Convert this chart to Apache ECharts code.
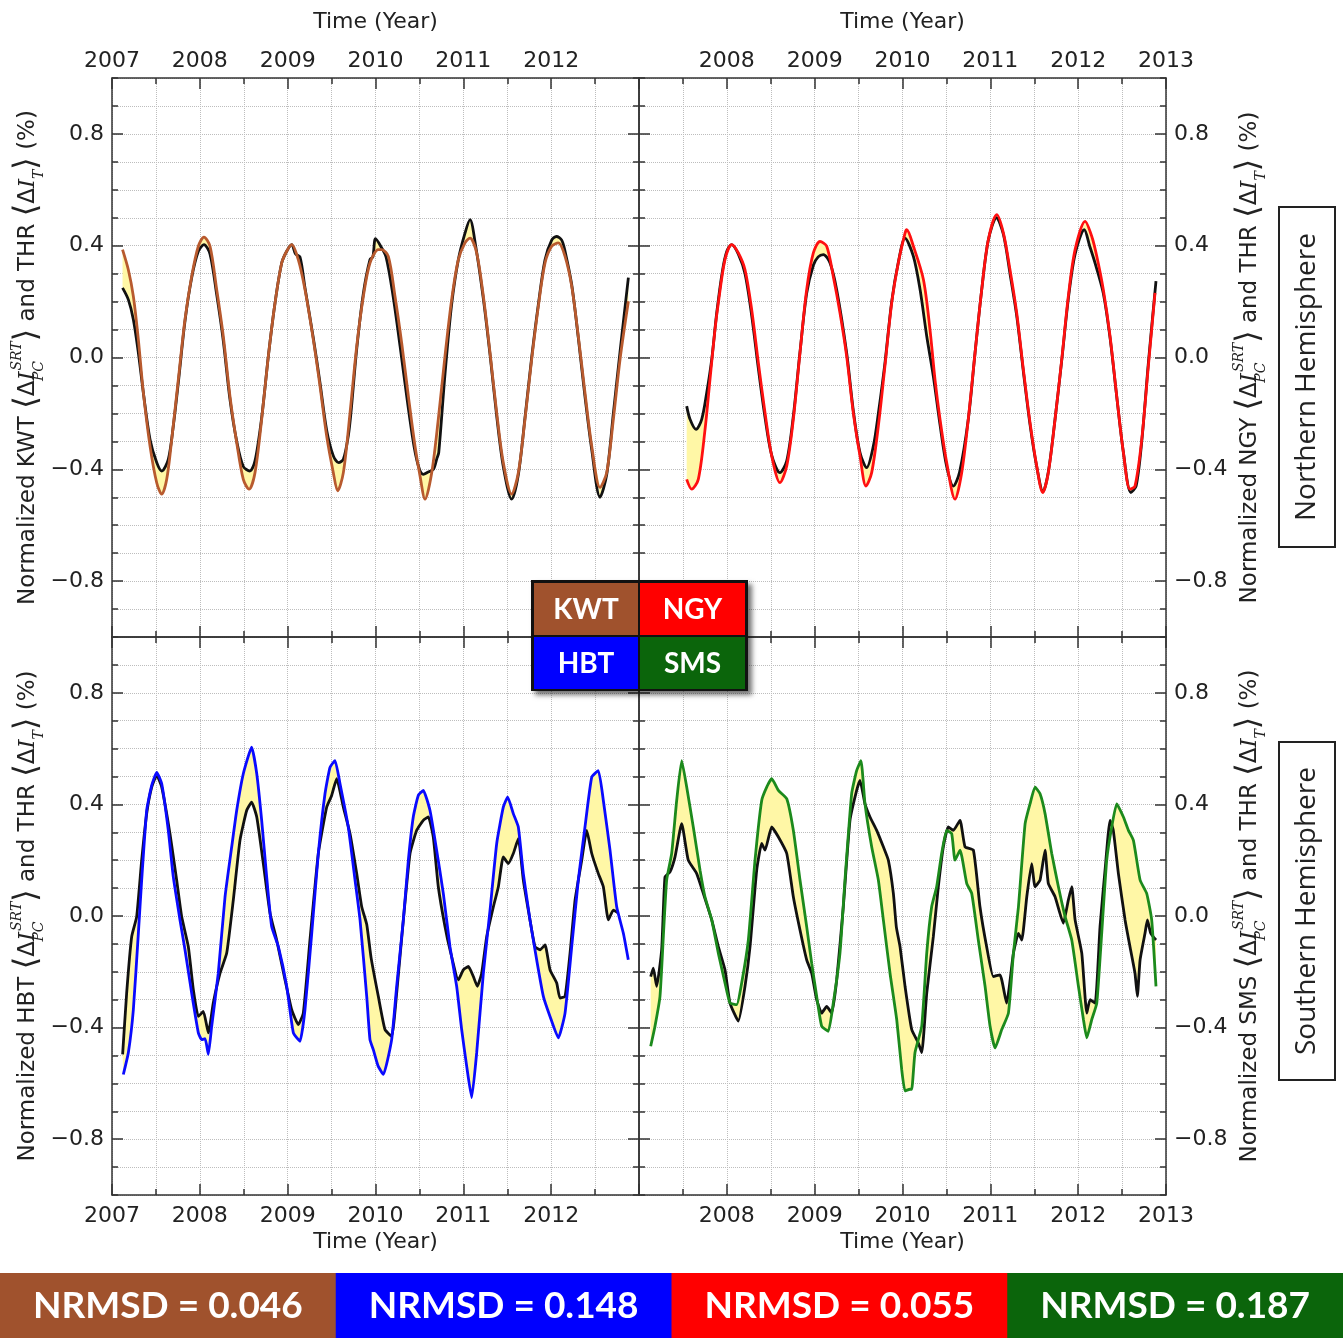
<!DOCTYPE html>
<html>
<head>
<meta charset="utf-8">
<script src="https://cdn.jsdelivr.net/npm/echarts@6/dist/echarts.min.js"></script>
<style>
html,body{margin:0;padding:0;background:#fff;}
#chart{width:1343px;height:1338px;}
</style>
</head>
<body>
<div id="chart"></div>
<script>
// ---------- DATA (decimal year, normalized %) ----------
const KWT = [[2007.12,0.386],[2007.186,0.314],[2007.243,0.219],[2007.30,0.064],[2007.357,-0.126],[2007.433,-0.317],[2007.509,-0.448],[2007.566,-0.489],[2007.623,-0.436],[2007.68,-0.293],[2007.755,-0.079],[2007.831,0.136],[2007.907,0.29],[2007.983,0.398],[2008.047,0.431],[2008.116,0.398],[2008.192,0.243],[2008.267,0.076],[2008.343,-0.138],[2008.42,-0.305],[2008.495,-0.436],[2008.56,-0.471],[2008.628,-0.412],[2008.704,-0.221],[2008.78,0.005],[2008.856,0.195],[2008.932,0.338],[2008.989,0.38],[2009.046,0.404],[2009.121,0.35],[2009.197,0.243],[2009.292,0.064],[2009.368,-0.102],[2009.444,-0.281],[2009.52,-0.412],[2009.569,-0.477],[2009.634,-0.412],[2009.71,-0.198],[2009.786,0.04],[2009.862,0.219],[2009.937,0.338],[2010.032,0.386],[2010.07,0.386],[2010.146,0.362],[2010.222,0.219],[2010.298,0.052],[2010.374,-0.138],[2010.45,-0.317],[2010.507,-0.424],[2010.564,-0.507],[2010.64,-0.412],[2010.715,-0.221],[2010.791,0.005],[2010.867,0.207],[2010.943,0.35],[2011.019,0.41],[2011.076,0.427],[2011.152,0.374],[2011.228,0.219],[2011.304,0.017],[2011.38,-0.198],[2011.455,-0.376],[2011.55,-0.489],[2011.626,-0.412],[2011.702,-0.221],[2011.778,-0.007],[2011.854,0.183],[2011.93,0.338],[2012.006,0.398],[2012.082,0.41],[2012.158,0.362],[2012.234,0.255],[2012.309,0.076],[2012.385,-0.126],[2012.462,-0.317],[2012.556,-0.465],[2012.632,-0.412],[2012.708,-0.221],[2012.784,-0.007],[2012.879,0.201]];
const THR_KWT = [[2007.12,0.249],[2007.186,0.207],[2007.243,0.136],[2007.30,0.017],[2007.357,-0.126],[2007.433,-0.293],[2007.509,-0.376],[2007.566,-0.406],[2007.641,-0.364],[2007.698,-0.245],[2007.755,-0.09],[2007.831,0.13],[2007.907,0.285],[2007.983,0.38],[2008.047,0.404],[2008.116,0.37],[2008.192,0.225],[2008.267,0.06],[2008.343,-0.15],[2008.42,-0.30],[2008.495,-0.39],[2008.569,-0.406],[2008.628,-0.37],[2008.704,-0.215],[2008.78,0.005],[2008.856,0.195],[2008.932,0.338],[2008.989,0.38],[2009.046,0.404],[2009.09,0.37],[2009.14,0.36],[2009.197,0.25],[2009.292,0.07],[2009.368,-0.09],[2009.444,-0.26],[2009.52,-0.352],[2009.58,-0.376],[2009.634,-0.364],[2009.69,-0.281],[2009.72,-0.20],[2009.786,0.03],[2009.862,0.23],[2009.937,0.35],[2009.97,0.36],[2010.0,0.425],[2010.056,0.40],[2010.12,0.36],[2010.2,0.22],[2010.28,0.04],[2010.36,-0.15],[2010.44,-0.32],[2010.5,-0.40],[2010.544,-0.418],[2010.6,-0.41],[2010.66,-0.40],[2010.70,-0.36],[2010.72,-0.34],[2010.791,-0.06],[2010.867,0.19],[2010.943,0.35],[2011.019,0.445],[2011.076,0.493],[2011.14,0.40],[2011.228,0.21],[2011.304,0.01],[2011.38,-0.21],[2011.455,-0.39],[2011.55,-0.507],[2011.626,-0.42],[2011.702,-0.215],[2011.778,0.0],[2011.854,0.19],[2011.93,0.35],[2012.006,0.42],[2012.06,0.433],[2012.12,0.42],[2012.158,0.38],[2012.234,0.26],[2012.309,0.07],[2012.385,-0.14],[2012.462,-0.33],[2012.556,-0.50],[2012.632,-0.42],[2012.708,-0.2],[2012.784,0.02],[2012.879,0.286]];

const NGY = [[2007.543,-0.436],[2007.6,-0.471],[2007.675,-0.436],[2007.752,-0.257],[2007.808,-0.079],[2007.865,0.1],[2007.903,0.195],[2007.979,0.35],[2008.055,0.404],[2008.131,0.374],[2008.207,0.314],[2008.283,0.171],[2008.359,-0.019],[2008.435,-0.198],[2008.511,-0.352],[2008.605,-0.448],[2008.682,-0.388],[2008.757,-0.221],[2008.833,0.017],[2008.909,0.243],[2008.985,0.374],[2009.061,0.415],[2009.137,0.398],[2009.212,0.29],[2009.288,0.16],[2009.364,0.005],[2009.44,-0.198],[2009.516,-0.352],[2009.584,-0.46],[2009.649,-0.412],[2009.725,-0.245],[2009.8,-0.031],[2009.877,0.195],[2009.952,0.338],[2010.029,0.445],[2010.048,0.457],[2010.124,0.398],[2010.238,0.279],[2010.313,0.1],[2010.37,-0.079],[2010.427,-0.221],[2010.503,-0.376],[2010.598,-0.507],[2010.674,-0.412],[2010.749,-0.221],[2010.826,0.017],[2010.902,0.243],[2010.977,0.421],[2011.073,0.511],[2011.149,0.445],[2011.224,0.314],[2011.3,0.16],[2011.376,-0.043],[2011.452,-0.233],[2011.528,-0.388],[2011.596,-0.483],[2011.66,-0.412],[2011.737,-0.221],[2011.813,-0.007],[2011.888,0.219],[2011.965,0.386],[2012.079,0.487],[2012.155,0.433],[2012.212,0.362],[2012.286,0.243],[2012.363,0.076],[2012.439,-0.138],[2012.515,-0.34],[2012.59,-0.471],[2012.647,-0.46],[2012.724,-0.293],[2012.799,-0.031],[2012.875,0.231]];
const THR_NGY = [[2007.543,-0.174],[2007.581,-0.221],[2007.649,-0.257],[2007.714,-0.221],[2007.771,-0.126],[2007.828,-0.007],[2007.885,0.16],[2007.95,0.31],[2008.0,0.38],[2008.055,0.404],[2008.131,0.37],[2008.207,0.30],[2008.283,0.15],[2008.359,-0.04],[2008.435,-0.215],[2008.511,-0.35],[2008.605,-0.412],[2008.682,-0.37],[2008.757,-0.21],[2008.833,0.02],[2008.909,0.23],[2008.985,0.33],[2009.04,0.36],[2009.099,0.368],[2009.175,0.338],[2009.25,0.243],[2009.364,0.017],[2009.44,-0.19],[2009.516,-0.34],[2009.592,-0.394],[2009.668,-0.317],[2009.725,-0.2],[2009.8,-0.02],[2009.877,0.2],[2009.952,0.34],[2010.029,0.427],[2010.124,0.362],[2010.2,0.243],[2010.276,0.076],[2010.351,-0.067],[2010.427,-0.24],[2010.503,-0.39],[2010.579,-0.46],[2010.65,-0.41],[2010.749,-0.221],[2010.826,0.017],[2010.902,0.243],[2010.977,0.42],[2011.07,0.50],[2011.149,0.44],[2011.224,0.30],[2011.3,0.15],[2011.376,-0.05],[2011.452,-0.24],[2011.528,-0.39],[2011.6,-0.48],[2011.66,-0.41],[2011.737,-0.22],[2011.813,-0.01],[2011.888,0.21],[2011.965,0.37],[2012.07,0.457],[2012.13,0.40],[2012.2,0.33],[2012.286,0.23],[2012.363,0.07],[2012.439,-0.14],[2012.515,-0.34],[2012.6,-0.483],[2012.66,-0.46],[2012.724,-0.30],[2012.799,-0.02],[2012.886,0.273]];

const HBT = [[2007.129,-0.568],[2007.186,-0.49],[2007.243,-0.336],[2007.30,-0.062],[2007.338,0.129],[2007.395,0.379],[2007.452,0.468],[2007.509,0.515],[2007.566,0.474],[2007.641,0.307],[2007.698,0.14],[2007.774,-0.014],[2007.831,-0.121],[2007.907,-0.276],[2007.983,-0.419],[2008.021,-0.443],[2008.06,-0.44],[2008.097,-0.496],[2008.135,-0.395],[2008.21,-0.205],[2008.287,0.069],[2008.363,0.248],[2008.42,0.379],[2008.495,0.51],[2008.59,0.605],[2008.648,0.51],[2008.704,0.343],[2008.761,0.14],[2008.818,-0.038],[2008.894,-0.11],[2008.989,-0.252],[2009.065,-0.419],[2009.14,-0.449],[2009.197,-0.336],[2009.274,-0.062],[2009.349,0.224],[2009.425,0.438],[2009.482,0.533],[2009.539,0.557],[2009.596,0.474],[2009.69,0.319],[2009.767,0.129],[2009.824,-0.014],[2009.9,-0.288],[2009.937,-0.443],[2009.975,-0.479],[2010.03,-0.538],[2010.089,-0.568],[2010.184,-0.443],[2010.241,-0.252],[2010.317,-0.014],[2010.374,0.2],[2010.43,0.355],[2010.487,0.432],[2010.544,0.45],[2010.62,0.379],[2010.696,0.236],[2010.772,0.081],[2010.848,-0.11],[2010.924,-0.252],[2010.981,-0.407],[2011.038,-0.538],[2011.095,-0.651],[2011.152,-0.49],[2011.228,-0.205],[2011.304,0.021],[2011.38,0.26],[2011.455,0.39],[2011.505,0.426],[2011.569,0.367],[2011.626,0.319],[2011.683,0.152],[2011.759,-0.014],[2011.835,-0.157],[2011.911,-0.288],[2011.987,-0.36],[2012.082,-0.437],[2012.158,-0.348],[2012.234,-0.11],[2012.309,0.129],[2012.385,0.319],[2012.462,0.498],[2012.537,0.521],[2012.594,0.414],[2012.67,0.236],[2012.746,0.033],[2012.822,-0.062],[2012.878,-0.157]];
const THR_HBT = [[2007.121,-0.496],[2007.167,-0.276],[2007.224,-0.074],[2007.281,-0.002],[2007.338,0.2],[2007.395,0.367],[2007.452,0.462],[2007.509,0.504],[2007.566,0.462],[2007.66,0.295],[2007.736,0.129],[2007.793,-0.002],[2007.869,-0.11],[2007.926,-0.264],[2007.983,-0.36],[2008.04,-0.342],[2008.097,-0.419],[2008.153,-0.312],[2008.23,-0.205],[2008.306,-0.133],[2008.381,0.057],[2008.457,0.271],[2008.534,0.379],[2008.59,0.408],[2008.648,0.355],[2008.723,0.188],[2008.799,0.01],[2008.875,-0.086],[2008.97,-0.229],[2009.046,-0.336],[2009.121,-0.389],[2009.178,-0.348],[2009.254,-0.086],[2009.349,0.224],[2009.444,0.39],[2009.501,0.432],[2009.558,0.492],[2009.634,0.39],[2009.71,0.295],[2009.786,0.152],[2009.843,0.033],[2009.9,-0.03],[2009.95,-0.15],[2010.032,-0.288],[2010.108,-0.407],[2010.184,-0.431],[2010.241,-0.276],[2010.317,-0.014],[2010.393,0.224],[2010.469,0.307],[2010.544,0.343],[2010.601,0.355],[2010.658,0.283],[2010.715,0.105],[2010.791,-0.038],[2010.848,-0.121],[2010.943,-0.229],[2011.0,-0.193],[2011.057,-0.181],[2011.114,-0.217],[2011.159,-0.252],[2011.209,-0.205],[2011.266,-0.074],[2011.342,0.033],[2011.399,0.105],[2011.455,0.212],[2011.512,0.188],[2011.569,0.224],[2011.626,0.277],[2011.683,0.129],[2011.759,-0.014],[2011.816,-0.11],[2011.873,-0.121],[2011.93,-0.104],[2011.987,-0.193],[2012.063,-0.24],[2012.1,-0.294],[2012.158,-0.288],[2012.215,-0.133],[2012.272,0.057],[2012.348,0.2],[2012.405,0.307],[2012.462,0.224],[2012.537,0.152],[2012.594,0.105],[2012.651,-0.014],[2012.708,0.021],[2012.765,0.01]];

const SMS = [[2007.133,-0.467],[2007.182,-0.395],[2007.239,-0.288],[2007.277,-0.074],[2007.315,0.129],[2007.372,0.224],[2007.429,0.414],[2007.486,0.557],[2007.543,0.462],[2007.618,0.319],[2007.695,0.164],[2007.751,0.069],[2007.828,-0.014],[2007.903,-0.133],[2007.979,-0.24],[2008.036,-0.312],[2008.112,-0.318],[2008.169,-0.24],[2008.245,-0.086],[2008.321,0.2],[2008.397,0.414],[2008.454,0.462],[2008.511,0.492],[2008.587,0.45],[2008.682,0.42],[2008.757,0.307],[2008.833,0.129],[2008.909,-0.038],[2008.966,-0.169],[2009.023,-0.288],[2009.08,-0.395],[2009.155,-0.413],[2009.212,-0.312],[2009.288,-0.133],[2009.345,0.129],[2009.421,0.438],[2009.478,0.521],[2009.527,0.557],[2009.573,0.402],[2009.649,0.248],[2009.725,0.129],[2009.782,-0.014],[2009.858,-0.205],[2009.934,-0.371],[2009.991,-0.55],[2010.029,-0.627],[2010.086,-0.621],[2010.105,-0.621],[2010.142,-0.49],[2010.219,-0.395],[2010.276,-0.133],[2010.332,0.033],[2010.389,0.105],[2010.446,0.224],[2010.503,0.307],[2010.56,0.295],[2010.598,0.2],[2010.655,0.236],[2010.731,0.117],[2010.788,0.081],[2010.863,-0.086],[2010.94,-0.252],[2010.997,-0.395],[2011.054,-0.473],[2011.13,-0.407],[2011.206,-0.348],[2011.263,-0.133],[2011.32,0.033],[2011.396,0.331],[2011.452,0.402],[2011.509,0.462],[2011.566,0.438],[2011.623,0.367],[2011.699,0.224],[2011.775,0.105],[2011.851,-0.002],[2011.927,-0.086],[2012.003,-0.252],[2012.06,-0.371],[2012.098,-0.437],[2012.155,-0.371],[2012.212,-0.312],[2012.268,-0.062],[2012.325,0.2],[2012.382,0.319],[2012.439,0.402],[2012.515,0.355],[2012.572,0.307],[2012.629,0.271],[2012.705,0.129],[2012.78,0.081],[2012.837,-0.014],[2012.886,-0.252]];
const THR_SMS = [[2007.133,-0.217],[2007.163,-0.187],[2007.201,-0.252],[2007.258,-0.121],[2007.296,0.14],[2007.353,0.158],[2007.41,0.212],[2007.486,0.331],[2007.561,0.2],[2007.657,0.152],[2007.732,0.081],[2007.828,-0.014],[2007.903,-0.11],[2007.979,-0.193],[2008.036,-0.312],[2008.131,-0.377],[2008.207,-0.252],[2008.264,-0.11],[2008.34,0.164],[2008.397,0.26],[2008.435,0.236],[2008.511,0.319],[2008.587,0.283],[2008.682,0.224],[2008.757,0.069],[2008.833,-0.05],[2008.909,-0.157],[2008.966,-0.205],[2009.023,-0.3],[2009.08,-0.348],[2009.137,-0.324],[2009.194,-0.348],[2009.251,-0.229],[2009.326,0.033],[2009.402,0.343],[2009.478,0.45],[2009.516,0.486],[2009.573,0.402],[2009.63,0.355],[2009.706,0.307],[2009.782,0.248],[2009.839,0.2],[2009.896,0.081],[2009.93,-0.04],[2009.972,-0.11],[2010.029,-0.252],[2010.105,-0.407],[2010.18,-0.455],[2010.219,-0.49],[2010.276,-0.276],[2010.351,-0.074],[2010.408,0.105],[2010.465,0.248],[2010.522,0.319],[2010.579,0.307],[2010.655,0.343],[2010.712,0.248],[2010.807,0.236],[2010.882,0.033],[2010.958,-0.11],[2011.034,-0.217],[2011.11,-0.211],[2011.185,-0.312],[2011.263,-0.133],[2011.32,-0.062],[2011.358,-0.086],[2011.415,0.069],[2011.471,0.188],[2011.509,0.105],[2011.566,0.129],[2011.623,0.236],[2011.66,0.117],[2011.737,0.069],[2011.831,-0.026],[2011.888,0.057],[2011.927,0.105],[2011.965,-0.014],[2012.041,-0.133],[2012.098,-0.348],[2012.136,-0.3],[2012.193,-0.312],[2012.249,-0.038],[2012.306,0.164],[2012.363,0.343],[2012.4,0.307],[2012.458,0.152],[2012.534,-0.014],[2012.59,-0.11],[2012.647,-0.205],[2012.674,-0.288],[2012.705,-0.157],[2012.761,-0.062],[2012.788,-0.014],[2012.826,-0.062],[2012.886,-0.086]];

const Y_TICKS_MINOR = [-1,-0.9,-0.8,-0.7,-0.6,-0.5,-0.4,-0.3,-0.2,-0.1,0,0.1,0.2,0.3,0.4,0.5,0.6,0.7,0.8,0.9,1];
const Y_TICKS_MAJOR = [-0.8,-0.4,0,0.4,0.8];
const STATIONS = ['KWT','NGY','HBT','SMS'];
const NRMSD = ['0.046','0.055','0.148','0.187'];          // per station, same order as STATIONS
const NRMSD_ORDER = ['KWT','HBT','NGY','SMS'];            // left-to-right order of the bottom bars

// ---------- STYLE ----------
const COL = {KWT:'#b85a2e', NGY:'#ff1010', HBT:'#0a0aff', SMS:'#1c8a1c'};
const BOXCOL = {KWT:'#a0522d', NGY:'#ff0000', HBT:'#0000ff', SMS:'#0b650b'};
const FILL = '#fff7a6';
const AX = '#333';
const TXT = '#222';
const FONT = 'DejaVu Sans';
const SMOOTH = [0.3, 0.3, 0.15, 0.15];

const chart = echarts.init(document.getElementById('chart'), null, {renderer:'canvas'});

const GRIDS = [
  {left:112, top:78, width:527, height:559},
  {left:639, top:78, width:527, height:559},
  {left:112, top:637, width:527, height:558},
  {left:639, top:637, width:527, height:558}
];
const PANELS = [
  {xPos:'top', hide:2013, ySide:'left', st:'KWT', a:KWT, b:THR_KWT},
  {xPos:'top', hide:2007, ySide:'right', st:'NGY', a:NGY, b:THR_NGY},
  {xPos:'bottom', hide:2013, ySide:'left', st:'HBT', a:HBT, b:THR_HBT},
  {xPos:'bottom', hide:2007, ySide:'right', st:'SMS', a:SMS, b:THR_SMS}
];

const dotted = {show:true, lineStyle:{type:'dotted', color:'#bdbdbd', width:1}};
const axLine = {show:true, onZero:false, lineStyle:{color:AX, width:1.5}};
const labelStyle = {fontFamily:FONT, fontSize:22, color:TXT};

function yFmt(v){ if (Math.abs(v) < 1e-9) return '0.0'; return (v<0?'\u2212':'') + Math.abs(v).toFixed(1); }

function yName(code){
  return '{t|Normalized ' + code + ' }{b|\u27E8}{t|\u0394}{i|I}{sub|PC}{sup|SRT}{b|\u27E9}{t| and THR }{b|\u27E8}{t|\u0394}{i|I}{sub2|T}{b|\u27E9}{t| (%)}';
}
const nameRich = {
  t:{fontFamily:FONT, fontSize:23, color:TXT, lineHeight:36, verticalAlign:'middle'},
  i:{fontFamily:'DejaVu Serif', fontStyle:'italic', fontSize:23, color:TXT, lineHeight:36, verticalAlign:'middle'},
  b:{fontFamily:FONT, fontSize:32, color:TXT, lineHeight:36, verticalAlign:'middle'},
  sup:{fontFamily:'DejaVu Serif', fontStyle:'italic', fontSize:14, color:TXT, lineHeight:14, verticalAlign:'top'},
  sub:{fontFamily:'DejaVu Serif', fontStyle:'italic', fontSize:14, color:TXT, lineHeight:14, verticalAlign:'bottom', width:1, align:'left'},
  sub2:{fontFamily:'DejaVu Serif', fontStyle:'italic', fontSize:14, color:TXT, lineHeight:14, verticalAlign:'bottom'}
};

const xAxis = [], yAxis = [], series = [];
PANELS.forEach((p, gi) => {
  const xBase = {gridIndex:gi, type:'value', min:2007, max:2013, interval:1};
  const otherX = p.xPos === 'top' ? 'bottom' : 'top';
  xAxis.push(Object.assign({}, xBase, {
    position:p.xPos, axisLine:axLine,
    axisTick:{show:true, inside:true, length:11, lineStyle:{color:AX, width:1.5}},
    minorTick:{show:true, splitNumber:2, length:6, lineStyle:{color:AX, width:1.5}},
    axisLabel:Object.assign({show:true, margin:p.xPos==='top'?6:10, formatter:v => (Math.round(v)===p.hide ? '' : String(Math.round(v))), showMinLabel:true, showMaxLabel:true}, labelStyle),
    splitLine:dotted, minorSplitLine:dotted,
    name:'Time (Year)', nameLocation:'middle', nameGap:p.xPos==='top'?45:36,
    nameTextStyle:{fontFamily:FONT, fontSize:22, color:TXT}
  }));
  xAxis.push(Object.assign({}, xBase, {
    position:otherX, axisLine:axLine,
    axisTick:{show:true, inside:true, length:11, lineStyle:{color:AX, width:1.5}},
    minorTick:{show:true, splitNumber:2, length:6, lineStyle:{color:AX, width:1.5}},
    axisLabel:{show:false}, splitLine:{show:false}
  }));
  const yBase = {gridIndex:gi, type:'value', min:-1, max:1, interval:0.2};
  const otherY = p.ySide === 'left' ? 'right' : 'left';
  yAxis.push(Object.assign({}, yBase, {
    position:p.ySide, axisLine:axLine,
    axisTick:{show:true, inside:true, length:6, customValues:Y_TICKS_MINOR, lineStyle:{color:AX, width:1.5}},
    axisLabel:Object.assign({show:true, margin:8, customValues:Y_TICKS_MAJOR, formatter:yFmt}, labelStyle),
    splitLine:dotted,
    name:yName(p.st), nameLocation:'middle', nameRotate:90, nameGap:66,
    nameTextStyle:{rich:nameRich}
  }));
  yAxis.push(Object.assign({}, yBase, {
    position:p.ySide, axisLine:{show:false},
    axisTick:{show:true, inside:true, length:11, customValues:Y_TICKS_MAJOR, lineStyle:{color:AX, width:1.5}},
    axisLabel:{show:false}, splitLine:{show:false}
  }));
  yAxis.push(Object.assign({}, yBase, {
    position:otherY, axisLine:axLine,
    axisTick:{show:true, inside:true, length:6, customValues:Y_TICKS_MINOR, lineStyle:{color:AX, width:1.5}},
    axisLabel:{show:false}, splitLine:{show:false}
  }));
  yAxis.push(Object.assign({}, yBase, {
    position:otherY, axisLine:{show:false},
    axisTick:{show:true, inside:true, length:11, customValues:Y_TICKS_MAJOR, lineStyle:{color:AX, width:1.5}},
    axisLabel:{show:false}, splitLine:{show:false}
  }));

  const xi = gi*2, yi = gi*4;
  series.push({
    type:'custom', xAxisIndex:xi, yAxisIndex:yi, clip:true, silent:true, z:1,
    data:[[2010,0]],
    renderItem:(params, api) => {
      if (params.dataIndex !== 0) return null;
      const pts = p.a.map(d => api.coord(d)).concat(p.b.slice().reverse().map(d => api.coord(d)));
      return {type:'polygon', shape:{points:pts}, style:{fill:FILL, stroke:null}};
    }
  });
  series.push({
    type:'line', name:'THR', xAxisIndex:xi, yAxisIndex:yi, data:p.b, showSymbol:false, z:3,
    smooth:SMOOTH[gi], lineStyle:{color:'#111', width:2.8}, silent:true
  });
  series.push({
    type:'line', name:p.st, xAxisIndex:xi, yAxisIndex:yi, data:p.a, showSymbol:false, z:4,
    smooth:SMOOTH[gi], lineStyle:{color:COL[p.st], width:2.8}, silent:true
  });
});

// ---------- GRAPHICS: legend box, hemisphere labels, NRMSD bars ----------
const graphic = [];
const LEG = [
  {st:'KWT', x:534, y:583, w:104, h:52},
  {st:'NGY', x:640, y:583, w:105, h:52},
  {st:'HBT', x:534, y:637, w:104, h:52},
  {st:'SMS', x:640, y:637, w:105, h:52}
];
graphic.push({type:'rect', shape:{x:531, y:580, width:217, height:111}, z:100,
  style:{fill:'#111', shadowBlur:5, shadowOffsetX:4, shadowOffsetY:4, shadowColor:'rgba(0,0,0,0.55)'}});
LEG.forEach(c => {
  graphic.push({type:'rect', shape:{x:c.x, y:c.y, width:c.w, height:c.h}, z:101, style:{fill:BOXCOL[c.st]}});
  graphic.push({type:'text', x:c.x + c.w/2, y:c.y + c.h/2 + 1, z:102,
    style:{text:c.st, fill:'#fff', font:'bold 28px Lato', textAlign:'center', textVerticalAlign:'middle'}});
});
[['Northern Hemisphere', 207, 340], ['Southern Hemisphere', 742, 338]].forEach(h => {
  graphic.push({type:'rect', shape:{x:1279, y:h[1], width:56, height:h[2]}, z:100,
    style:{fill:'#fff', stroke:'#222', lineWidth:2}});
  graphic.push({type:'text', x:1307, y:h[1] + h[2]/2, rotation:Math.PI/2, z:101,
    style:{text:h[0], fill:TXT, font:'28px "Open Sans"', textAlign:'center', textVerticalAlign:'middle'}});
});
const barW = 1343/4;
NRMSD_ORDER.forEach((st, i) => {
  const val = NRMSD[STATIONS.indexOf(st)];
  graphic.push({type:'rect', shape:{x:i*barW, y:1273, width:barW+1, height:65}, z:100, style:{fill:BOXCOL[st]}});
  graphic.push({type:'text', x:i*barW + barW/2, y:1306, z:101,
    style:{text:'NRMSD = ' + val, fill:'#fff', font:'bold 37px Lato', textAlign:'center', textVerticalAlign:'middle'}});
});

chart.setOption({
  animation:false,
  backgroundColor:'#fff',
  grid:GRIDS,
  xAxis:xAxis,
  yAxis:yAxis,
  series:series,
  graphic:graphic
});
</script>
</body>
</html>
